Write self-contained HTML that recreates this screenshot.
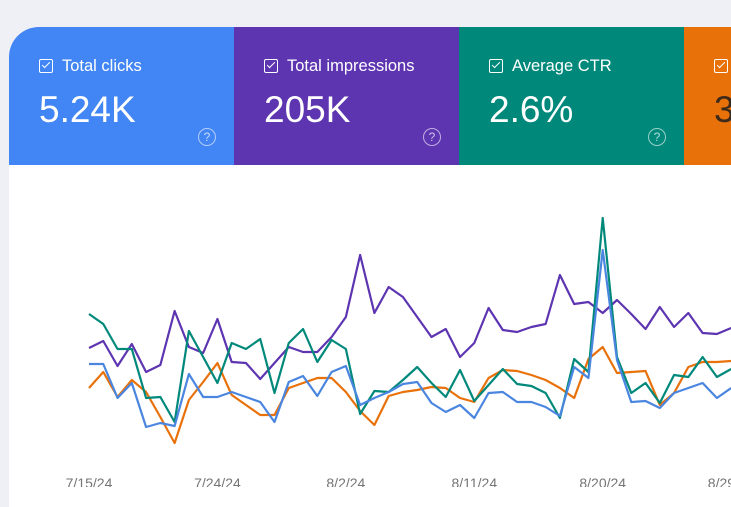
<!DOCTYPE html>
<html><head><meta charset="utf-8"><style>
body{margin:0;width:731px;height:487px;overflow:hidden;background:#eef0f5;font-family:"Liberation Sans",sans-serif;position:relative}
.card{position:absolute;left:9px;top:27px;width:740px;height:480px;background:#fff;border-top-left-radius:30px;overflow:hidden}
.tile{position:absolute;top:0;height:138px;width:225px;color:#fff}
.cb{position:absolute;left:30px;top:32px;width:12px;height:12px;border:1.6px solid #fff;border-radius:2px}
.cb:after{content:"";position:absolute;left:3.5px;top:0px;width:3px;height:7px;border:solid #fff;border-width:0 1.6px 1.6px 0;transform:rotate(45deg)}
.lbl{position:absolute;left:53px;top:30px;font-size:16.5px}
.val{position:absolute;left:30px;top:62px;font-size:37px}
.help{position:absolute;left:189px;top:101px;width:16px;height:16px;border:1.8px solid rgba(255,255,255,.6);border-radius:50%;font-size:12px;line-height:16px;text-align:center;color:rgba(255,255,255,.7)}
</style></head><body>
<div class="card">
<div class="tile" style="left:0;background:#4285f4"><div class="cb"></div><div class="lbl">Total clicks</div><div class="val">5.24K</div><div class="help">?</div></div>
<div class="tile" style="left:225px;background:#5e35b1"><div class="cb"></div><div class="lbl">Total impressions</div><div class="val">205K</div><div class="help">?</div></div>
<div class="tile" style="left:450px;background:#00897b"><div class="cb"></div><div class="lbl">Average CTR</div><div class="val">2.6%</div><div class="help">?</div></div>
<div class="tile" style="left:675px;background:#e8710a"><div class="cb"></div><div class="val" style="color:#3c2a1a">3</div></div>
</div>
<svg id="chart" width="731" height="487" style="position:absolute;left:0;top:0"></svg>
<script>
const tickLabels=["7/15/24","7/24/24","8/2/24","8/11/24","8/20/24","8/29/24"];
const tickIndex=[0,9,18,27,36,45];
const impressions=[112,119,94,116,88,95,149,113,107,141,98,97,81,97,113,108,108,123,143,205,147,173,163,143,123,131,103,117,152,130,128,133,136,185,156,158,147,160,146,131,153,133,147,127,126,132];
const ctr=[146,136,111,111,62,63,38,129,103,77,117,111,121,67,117,131,98,120,111,46,69,68,80,93,77,63,90,59,75,91,76,74,67,42,101,88,242,103,67,77,57,85,83,103,83,91];
const clicks=[96,96,62,77,33,37,34,86,63,63,68,63,58,38,78,84,64,88,94,55,62,68,76,78,57,48,55,42,67,68,58,58,53,44,93,82,210,100,58,59,52,67,72,77,62,72];
const position=[72,88,63,80,68,43,17,60,78,97,65,55,45,45,72,77,82,82,68,49,35,64,68,70,73,72,62,58,82,90,89,85,80,72,62,101,113,87,88,89,55,67,93,98,98,99];
const svg=document.getElementById('chart');const NS="http://www.w3.org/2000/svg";
function xScale(i){return 89+i*14.27;}
function yScale(v){return 460-v;}
const order=[[impressions,"#5e35b1","impressions-line"],[position,"#e8710a","position-line"],[ctr,"#00897b","ctr-line"],[clicks,"#4a86e0","clicks-line"]];
order.forEach(([d,c,n])=>{
 const p=document.createElementNS(NS,'polyline');
 p.setAttribute('points',d.map((v,i)=>xScale(i)+','+yScale(v)).join(' '));
 p.setAttribute('fill','none');p.setAttribute('stroke',c);p.setAttribute('stroke-width','2.2');p.setAttribute('stroke-linejoin','round');
 
 
 svg.appendChild(p);
});
tickLabels.forEach((t,k)=>{
 const tx=document.createElementNS(NS,'text');
 tx.setAttribute('x',xScale(tickIndex[k]));tx.setAttribute('y',488);tx.setAttribute('text-anchor','middle');
 tx.setAttribute('font-size','14');tx.setAttribute('fill','#757575');tx.setAttribute('font-family','Liberation Sans, sans-serif');
 tx.textContent=t;
 
 
 svg.appendChild(tx);
});
</script>
</body></html>
